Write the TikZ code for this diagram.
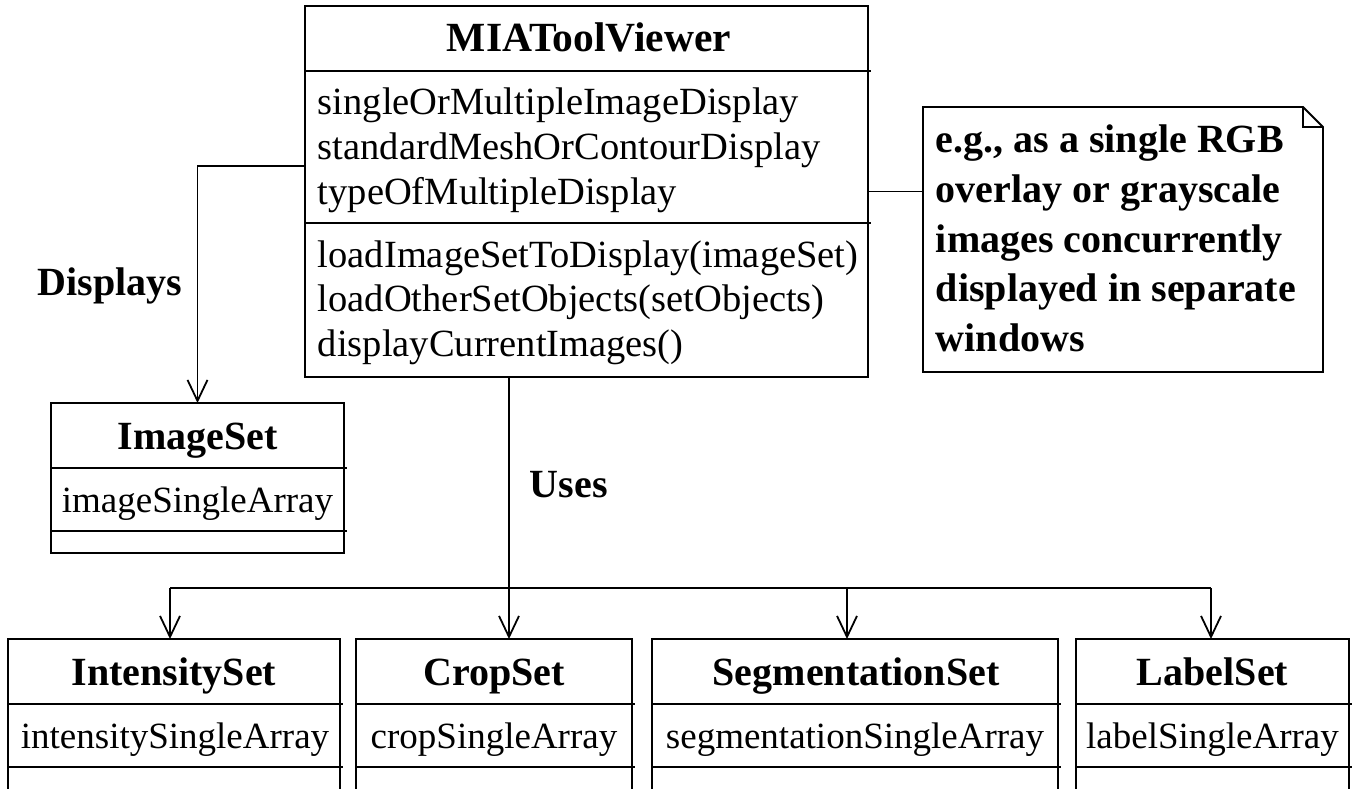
\documentclass[tikz,border=0pt]{standalone}
\usepackage{fontspec}
\setmainfont{Liberation Serif}
\usetikzlibrary{arrows.meta}
\begin{document}
\begin{tikzpicture}[x=1pt,y=-1pt,line width=1.8pt]
\tikzset{
  frame/.style={draw, rectangle, inner sep=0pt, outer sep=0pt, anchor=north west},
  ttl/.style={font=\fontsize{40}{48}\selectfont\bfseries, anchor=base, inner sep=0pt},
  bigttl/.style={font=\fontsize{41.5}{48}\selectfont\bfseries, anchor=base, inner sep=0pt},
  attr/.style={font=\fontsize{38.5}{44}\selectfont, anchor=base west, inner sep=0pt},
  attrc/.style={font=\fontsize{37}{44}\selectfont, anchor=base, inner sep=0pt},
  lbl/.style={font=\fontsize{40}{48}\selectfont\bfseries, anchor=base west, inner sep=0pt},
  conn/.style={-{Straight Barb[length=21pt,width=20pt]}},
}
\useasboundingbox (0,0) rectangle (1359,789);
\clip (0,0) rectangle (1359,789);

% ---- MIAToolViewer class
\node[frame, minimum width=563pt, minimum height=371pt] (mia) at (305,6) {};
\draw (305,71) -- (871,71);
\draw (305,223) -- (871,223);
\node[bigttl] (miaT) at (589,52) {MIAToolViewer};
\node[attr] (miaA1) at (317,115) {singleOrMultipleImageDisplay};
\node[attr] (miaA2) at (317,159.5) {standardMeshOrContourDisplay};
\node[attr] (miaA3) at (317,204) {typeOfMultipleDisplay};
\node[attr] (miaM1) at (317,267) {loadImageSetToDisplay(imageSet)};
\node[attr] (miaM2) at (317,311.5) {loadOtherSetObjects(setObjects)};
\node[attr] (miaM3) at (317,356) {displayCurrentImages()};

% ---- ImageSet class
\node[frame, minimum width=293pt, minimum height=150pt] (imgset) at (51,403) {};
\draw (51,468) -- (347,468);
\draw (51,531) -- (347,531);
\node[ttl] (imgsetT) at (197.5,449) {ImageSet};
\node[attrc] (imgsetA) at (197.5,512) {imageSingleArray};

% ---- bottom row of classes
\node[frame, minimum width=332pt, minimum height=200pt] (ints) at (8,639) {};
\draw (8,704) -- (343,704);
\draw (8,767) -- (343,767);
\node[ttl] (intsT) at (174,685) {IntensitySet};
\node[attrc] (intsA) at (175,748) {intensitySingleArray};

\node[frame, minimum width=276pt, minimum height=200pt] (crop) at (356,639) {};
\draw (356,704) -- (635,704);
\draw (356,767) -- (635,767);
\node[ttl] (cropT) at (494,685) {CropSet};
\node[attrc] (cropA) at (494,748) {cropSingleArray};

\node[frame, minimum width=406pt, minimum height=200pt] (seg) at (652,639) {};
\draw (652,704) -- (1061,704);
\draw (652,767) -- (1061,767);
\node[ttl] (segT) at (856,685) {SegmentationSet};
\node[attrc] (segA) at (855,748) {segmentationSingleArray};

\node[frame, minimum width=273pt, minimum height=200pt] (lab) at (1076,639) {};
\draw (1076,704) -- (1352,704);
\draw (1076,767) -- (1352,767);
\node[ttl] (labT) at (1212.5,685) {LabelSet};
\node[attrc] (labA) at (1212.5,748) {labelSingleArray};

% ---- note
\node[frame, draw=none, minimum width=400pt, minimum height=265pt] (note) at (923,107) {};
\draw (note.north west) -- ([xshift=-20pt]note.north east) -- ([yshift=-20pt]note.north east)
      -- (note.south east) -- (note.south west) -- cycle;
\draw ([xshift=-20pt]note.north east) |- ([yshift=-20pt]note.north east);
\foreach \t [count=\i from 0] in {e.g.{,} as a single RGB, overlay or grayscale,
    images concurrently, displayed in separate, windows}
  \node[lbl] (noteL\i) at (935,153+49.5*\i) {\t};

% ---- connectors
\draw (mia.east) -- (mia.east -| note.west);

\draw[conn] ([yshift=25.5pt]mia.west) -| (imgset.north);
\node[lbl] (displays) at (37,295) {Displays};

\coordinate (tapI) at (170,588);
\coordinate (tapC) at (509,588);
\coordinate (tapS) at (847,588);
\coordinate (tapL) at (1211,588);
\draw[conn] (mia.south -| tapC) -- (tapC |- crop.north);
\draw (tapI) -- (tapL);
\draw[conn] (tapI) -- (tapI |- ints.north);
\draw[conn] (tapS) -- (tapS |- seg.north);
\draw[conn] (tapL) -- (tapL |- lab.north);
\node[lbl] (uses) at (529,497) {Uses};
\end{tikzpicture}
\end{document}
